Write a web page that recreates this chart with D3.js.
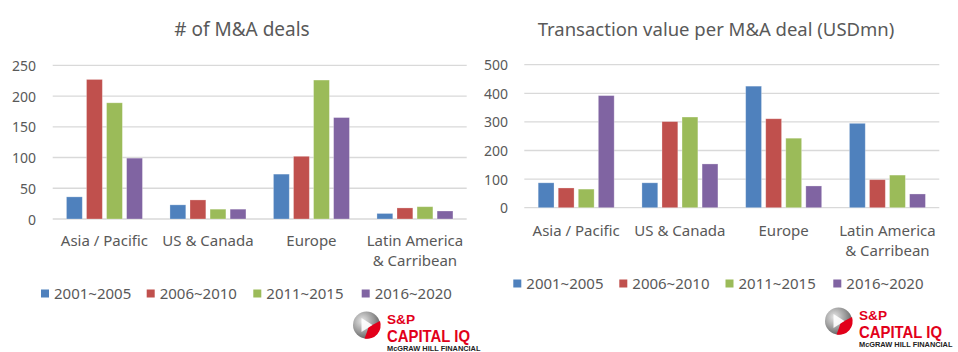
<!DOCTYPE html>
<html>
<head>
<meta charset="utf-8">
<script src="https://cdn.jsdelivr.net/npm/d3@7"></script>
<style>
  html, body { margin: 0; padding: 0; background: #fff; }
  svg { display: block; }
  text { font-family: "Noto Sans", "Open Sans", sans-serif; fill: #595959; }
</style>
</head>
<body>
<svg id="chart" width="958" height="352"></svg>
<script>
// ---- Data ----
const categories = ["Asia / Pacific", "US & Canada", "Europe", "Latin America\n& Carribean"];
const seriesNames = ["2001~2005", "2006~2010", "2011~2015", "2016~2020"];
const seriesColors = ["#4F81BD", "#C0504D", "#9BBB59", "#8064A2"];

// # of M&A deals (per series, per category)
const deals2001 = [36, 23, 73, 9];
const deals2006 = [227, 31, 102, 18];
const deals2011 = [189, 16, 226, 20];
const deals2016 = [99, 16, 165, 13];
const dealTicks = [0, 50, 100, 150, 200, 250];

// Transaction value per M&A deal (USDmn)
const value2001 = [87, 87, 425, 295];
const value2006 = [69, 301, 311, 98];
const value2011 = [65, 317, 243, 114];
const value2016 = [392, 153, 76, 48];
const valueTicks = [0, 100, 200, 300, 400, 500];

const svg = d3.select("#chart");

function drawPanel(cfg) {
  const g = svg.append("g");
  const x0 = d3.scaleBand().domain(categories).range([cfg.left, cfg.right]).padding(0);
  const y = d3.scaleLinear().domain([0, d3.max(cfg.ticks)]).range([cfg.bottom, cfg.top]);
  const x1 = d3.scaleBand().domain(seriesNames).range([-38, 38]).paddingInner(0.21).paddingOuter(0);

  // title
  g.append("text")
    .attr("x", cfg.titleX).attr("y", 36)
    .attr("text-anchor", "middle")
    .style("font-size", cfg.titleSize)
    .text(cfg.title);

  // gridlines
  const yAxis = d3.axisLeft(y).tickValues(cfg.ticks).tickSize(0).tickPadding(0);
  g.selectAll("line.grid").data(cfg.ticks).enter().append("line")
    .attr("x1", cfg.left).attr("x2", cfg.right)
    .attr("y1", d => y(d)).attr("y2", d => y(d))
    .attr("stroke", "#D9D9D9").attr("stroke-width", 1.3);

  // y tick labels via axis
  const ax = g.append("g").attr("transform", `translate(${cfg.labelX},0)`).call(yAxis);
  ax.select(".domain").remove();
  ax.selectAll("text").style("font-size", "14px").attr("fill", "#595959")
    .attr("font-family", null).attr("dy", "0.36em");

  // bars
  categories.forEach((c, ci) => {
    const cx = x0(c) + x0.bandwidth() / 2;
    seriesNames.forEach((s, si) => {
      const v = cfg.data[si][ci];
      g.append("rect")
        .attr("x", cx + x1(s))
        .attr("width", x1.bandwidth())
        .attr("y", y(v))
        .attr("height", y(0) - y(v))
        .attr("fill", seriesColors[si])
        .attr("stroke", "rgba(255,255,255,0.35)")
        .attr("stroke-width", 0.8);
    });
    // category labels
    const lines = c.split("\n");
    const t = g.append("text")
      .attr("x", cx).attr("y", cfg.catY)
      .attr("text-anchor", "middle")
      .style("font-size", "15px");
    lines.forEach((ln, li) => {
      t.append("tspan").attr("x", cx).attr("dy", li === 0 ? 0 : 20).text(ln);
    });
  });

  // legend
  seriesNames.forEach((s, si) => {
    const lx = cfg.legendX[si];
    g.append("rect")
      .attr("x", lx).attr("y", cfg.legendY - 4)
      .attr("width", 8).attr("height", 8)
      .attr("fill", seriesColors[si]);
    g.append("text")
      .attr("x", lx + 13).attr("y", cfg.legendY)
      .attr("dy", "0.36em")
      .style("font-size", "15px")
      .text(s);
  });
}

drawPanel({
  title: "# of M&A deals", titleX: 242, titleSize: "19px",
  left: 52.7, right: 466.7, top: 65.3, bottom: 219,
  labelX: 36, ticks: dealTicks,
  data: [deals2001, deals2006, deals2011, deals2016],
  catY: 245.5, legendY: 293.5,
  legendX: [41, 146.7, 253.3, 361.7]
});

drawPanel({
  title: "Transaction value per M&A deal (USDmn)", titleX: 716, titleSize: "18.5px",
  left: 524.3, right: 939.3, top: 64.7, bottom: 207.7,
  labelX: 508, ticks: valueTicks,
  data: [value2001, value2006, value2011, value2016],
  catY: 235.5, legendY: 283.5,
  legendX: [513.3, 619.3, 725.5, 833.3]
});

// ---- Logos ----
const defs = svg.append("defs");
const grad = defs.append("radialGradient").attr("id", "sphere")
  .attr("cx", "35%").attr("cy", "35%").attr("r", "70%");
grad.append("stop").attr("offset", "0%").attr("stop-color", "#e6e6e6");
grad.append("stop").attr("offset", "60%").attr("stop-color", "#9a9a9a");
grad.append("stop").attr("offset", "100%").attr("stop-color", "#5e5e5e");

function drawLogo(x, y) {
  const g = svg.append("g").attr("transform", `translate(${x},${y})`);
  const r = 13.5;
  g.append("circle").attr("cx", r).attr("cy", r).attr("r", r).attr("fill", "url(#sphere)");
  // red swoosh bottom-right
  g.append("path")
    .attr("d", `M ${r + 2} ${r + 2} L ${2 * r} ${r - 4} A ${r} ${r} 0 0 1 ${r - 2} ${2 * r} Q ${r + 1} ${r + 6} ${r + 2} ${r + 2} Z`)
    .attr("fill", "#E2001A");
  // white play triangle
  g.append("path")
    .attr("d", `M ${r - 5} ${r - 7} L ${r + 6} ${r} L ${r - 5} ${r + 7} Z`)
    .attr("fill", "#ffffff").attr("opacity", 0.9);
  const ff = "'Liberation Sans Narrow', 'Liberation Sans', sans-serif";
  g.append("text").attr("x", 34).attr("y", 12)
    .attr("textLength", 28).attr("lengthAdjust", "spacingAndGlyphs")
    .style("font-family", ff).style("font-weight", "bold")
    .style("font-size", "13px").style("fill", "#E2001A")
    .text("S&P");
  g.append("text").attr("x", 34).attr("y", 30)
    .attr("textLength", 83).attr("lengthAdjust", "spacingAndGlyphs")
    .style("font-family", ff).style("font-weight", "bold")
    .style("font-size", "16.5px").style("fill", "#E2001A")
    .text("CAPITAL IQ");
  g.append("text").attr("x", 34).attr("y", 39.8)
    .style("font-family", ff).style("font-weight", "bold")
    .style("font-size", "7.4px").style("fill", "#222")
    .text("McGRAW HILL FINANCIAL");
}
drawLogo(353, 311.5);
drawLogo(825, 307.5);
</script>
</body>
</html>
